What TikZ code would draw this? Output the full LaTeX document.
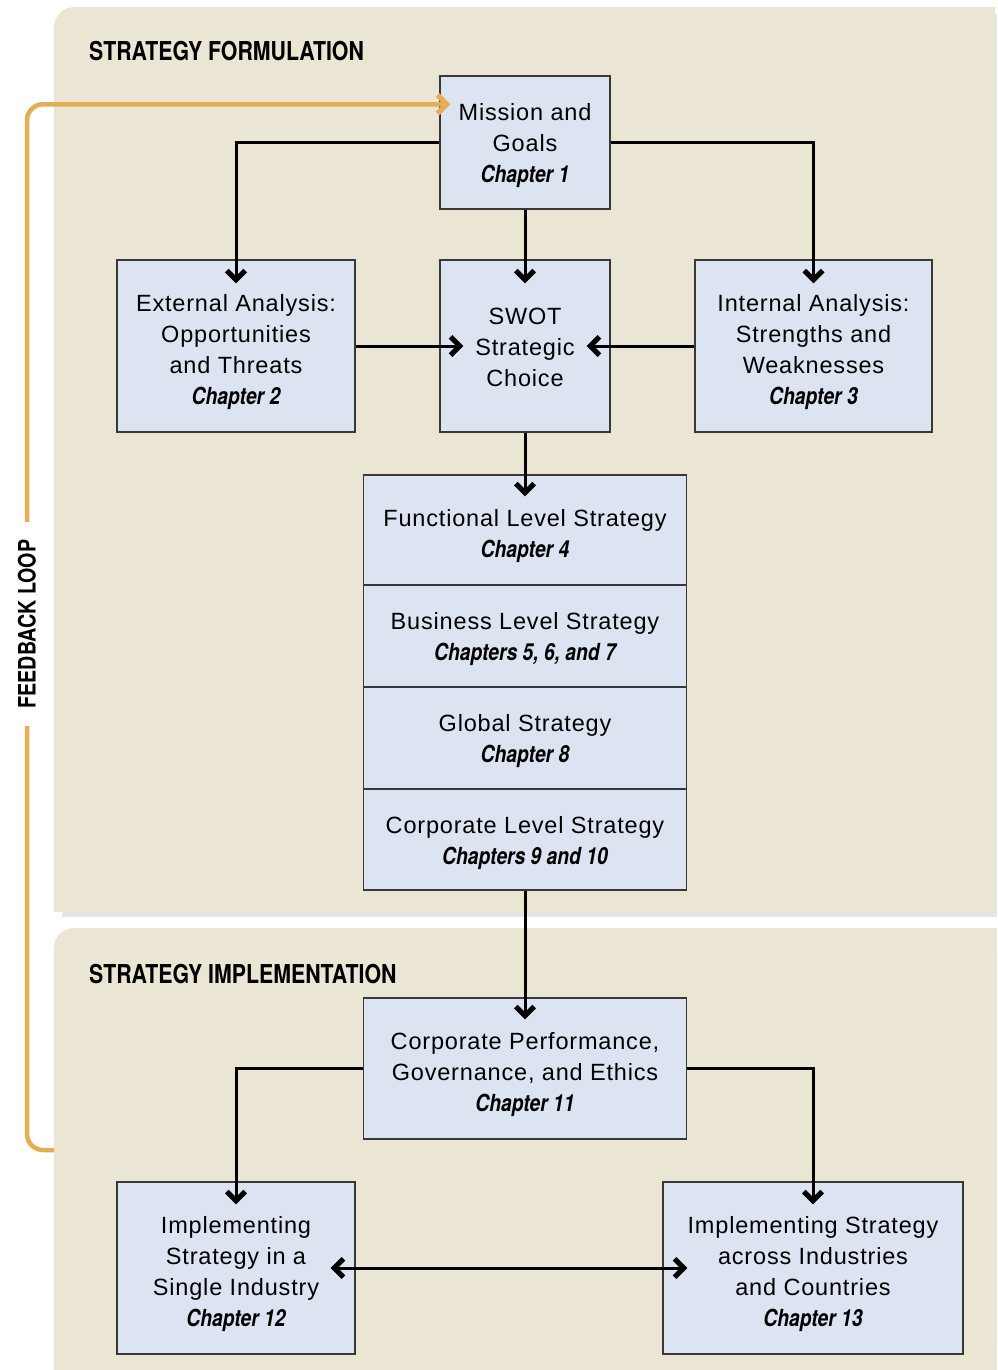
\documentclass[tikz,border=0pt]{standalone}
\usepackage{fontspec}
\setmainfont{Liberation Sans}[LetterSpace=3.5]
\newfontfamily\condfont{TeX Gyre Heros}[FakeStretch=0.82]
\usetikzlibrary{arrows.meta,calc}
\definecolor{panel}{HTML}{EBE5D4}
\definecolor{boxfill}{HTML}{DCE4F2}
\definecolor{boxline}{HTML}{383838}
\definecolor{loopcol}{HTML}{E5AE54}
% bold open chevron tip, drawn as a filled outline
\newcommand\chevronpath{%
  \pgfpathmoveto{\pgfqpoint{0pt}{0pt}}%
  \pgfpathlineto{\pgfqpoint{-11pt}{11pt}}%
  \pgfpathlineto{\pgfqpoint{-14.6pt}{7.4pt}}%
  \pgfpathlineto{\pgfqpoint{-7.2pt}{0pt}}%
  \pgfpathlineto{\pgfqpoint{-14.6pt}{-7.4pt}}%
  \pgfpathlineto{\pgfqpoint{-11pt}{-11pt}}%
  \pgfpathclose}
\pgfdeclarearrow{
  name=Chevron,
  setup code={%
    \pgfarrowssettipend{0pt}%
    \pgfarrowssetlineend{-5pt}%
    \pgfarrowssetbackend{-14.6pt}%
    \pgfarrowsupperhullpoint{-14.6pt}{11pt}%
    \pgfarrowshullpoint{0pt}{0pt}%
  },
  drawing code={\pgfsetfillcolor{black}\chevronpath\pgfusepathqfill}
}
\pgfdeclarearrow{
  name=ChevronLoop,
  setup code={%
    \pgfarrowssettipend{0pt}%
    \pgfarrowssetlineend{-5pt}%
    \pgfarrowssetbackend{-14.6pt}%
    \pgfarrowsupperhullpoint{-14.6pt}{11pt}%
    \pgfarrowshullpoint{0pt}{0pt}%
  },
  drawing code={\pgfsetfillcolor{loopcol}\chevronpath\pgfusepathqfill}
}
% chapter reference line: bold italic condensed
\newcommand\chp[1]{{\condfont\bfseries\itshape\fontsize{23.5}{31}\selectfont #1}}
% centred lines of box text, lowered a little below the box centre
\newcommand\bx[2][-6pt]{\raisebox{#1}[\height][\depth]{\begin{tabular}{@{}c@{}}#2\end{tabular}}}
\begin{document}
\begin{tikzpicture}[x=1pt,y=-1pt,
  box/.style={draw=boxline, line width=1.4pt, fill=boxfill,
    inner sep=0pt, font=\fontsize{23.5}{31}\selectfont},
  conn/.style={line width=3pt, draw=black, -{Chevron}},
  both/.style={line width=3pt, draw=black, {Chevron}-{Chevron}},
  fbline/.style={line width=4.5pt, draw=loopcol, rounded corners=16pt, -{ChevronLoop}},
  sectitle/.style={anchor=base west, inner sep=0pt,
    font=\condfont\bfseries\fontsize{26}{30}\selectfont}]
\useasboundingbox (0,0) rectangle (997,1370);

% panel shadows
\fill[black!10] (62,912) rectangle (997,917);
\fill[black!10] (995,14) rectangle (997,917);

% strategy formulation panel (rounded top-left corner only)
\fill[panel, rounded corners=20pt] (54,7) rectangle (995,912);
\fill[panel] (80,7) rectangle (995,912);
\fill[panel] (54,40) rectangle (995,912);

% strategy implementation panel
\fill[panel, rounded corners=20pt] (54,928) rectangle (997,1370);
\fill[panel] (80,928) rectangle (997,1370);
\fill[panel] (54,960) rectangle (997,1370);

\node[sectitle] (titleA) at (89,61) {STRATEGY FORMULATION};
\node[sectitle] (titleB) at (89,983) {STRATEGY IMPLEMENTATION};

% boxes
\node[box, minimum width=170pt, minimum height=133pt] (mission) at (525,142.5)
  {\bx[-3pt]{Mission and\\Goals\\\chp{Chapter 1}}};
\node[box, minimum width=238pt, minimum height=172pt] (ext) at (236,346)
  {\bx{External Analysis:\\Opportunities\\and Threats\\\chp{Chapter 2}}};
\node[box, minimum width=170pt, minimum height=172pt] (swot) at (525,346)
  {\bx[-3pt]{SWOT\\Strategic\\Choice}};
\node[box, minimum width=237pt, minimum height=172pt] (intl) at (813.5,346)
  {\bx{Internal Analysis:\\Strengths and\\Weaknesses\\\chp{Chapter 3}}};

\node[box, minimum width=323pt, minimum height=110pt] (func) at (525,530)
  {\bx{Functional Level Strategy\\\chp{Chapter 4}}};
\node[box, minimum width=323pt, minimum height=102pt] (bus) at (525,636)
  {\bx[-3pt]{Business Level Strategy\\\chp{Chapters 5, 6, and 7}}};
\node[box, minimum width=323pt, minimum height=102pt] (glob) at (525,738)
  {\bx[-3pt]{Global Strategy\\\chp{Chapter 8}}};
\node[box, minimum width=323pt, minimum height=101pt] (corp) at (525,839.5)
  {\bx[-3pt]{Corporate Level Strategy\\\chp{Chapters 9 and 10}}};

\node[box, minimum width=323pt, minimum height=141pt] (perf) at (525,1068.5)
  {\bx{Corporate Performance,\\Governance, and Ethics\\\chp{Chapter 11}}};
\node[box, minimum width=238pt, minimum height=172pt] (single) at (236,1268)
  {\bx{Implementing\\Strategy in a\\Single Industry\\\chp{Chapter 12}}};
\node[box, minimum width=300pt, minimum height=172pt] (across) at (813,1268)
  {\bx{Implementing Strategy\\across Industries\\and Countries\\\chp{Chapter 13}}};

% connectors (arrow tips reach into the target boxes)
\draw[conn, shorten >=-24pt] (mission.west) -| (ext.north);
\draw[conn, shorten >=-24pt] (mission.east) -| (intl.north);
\draw[conn, shorten >=-24pt] (mission.south) -- (swot.north);
\draw[conn, shorten >=-24pt] (ext.east) -- (swot.west);
\draw[conn, shorten >=-24pt] (intl.west) -- (swot.east);
\draw[conn, shorten >=-22pt] (swot.south) -- (func.north);
\draw[conn, shorten >=-22pt] (corp.south) -- (perf.north);
\draw[conn, shorten >=-23pt] (perf.west) -| (single.north);
\draw[conn, shorten >=-23pt] (perf.east) -| (across.north);
\draw[both, shorten <=-25pt, shorten >=-25pt] (single.east) -- (across.west);

% feedback loop
\coordinate (fbstart) at (54,1150);
\coordinate (fbend) at ([yshift=-29pt]mission.north west);
\draw[fbline, shorten >=-11pt] (fbstart) -- ++(-27,0) |- (fbend);
\node[fill=white, rotate=90, inner xsep=18pt, inner ysep=4pt,
  font=\condfont\bfseries\fontsize{24}{28}\selectfont] (fblabel) at (27,624) {FEEDBACK LOOP};
\end{tikzpicture}
\end{document}
